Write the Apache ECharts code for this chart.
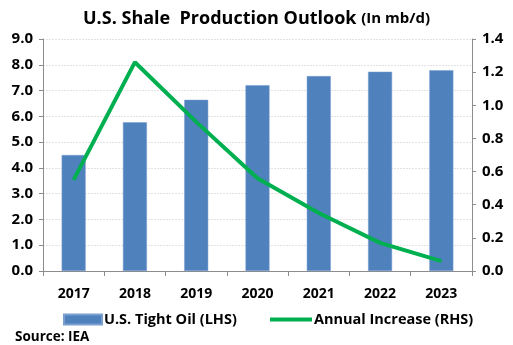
<!DOCTYPE html>
<html>
<head>
<meta charset="utf-8">
<script src="https://cdn.jsdelivr.net/npm/echarts@6/dist/echarts.min.js"></script>
<style>
  html, body { margin: 0; padding: 0; background: #fff; }
  #chart { width: 513px; height: 345px; }
</style>
</head>
<body>
<div id="chart"></div>
<script>
// Years on the category axis
const years = ['2017', '2018', '2019', '2020', '2021', '2022', '2023'];
// U.S. tight oil output, mb/d (left axis)
const tightOil = [4.50, 5.77, 6.64, 7.21, 7.56, 7.73, 7.79];
// Year-over-year increase, mb/d (right axis)
const annualIncrease = [0.55, 1.26, 0.90, 0.56, 0.35, 0.17, 0.06];

const FONT = '"Open Sans", Lato, sans-serif';
const chart = echarts.init(document.getElementById('chart'), null, { renderer: 'canvas' });

const legendText = { fontFamily: FONT, fontWeight: 'bold', fontSize: 14.5, color: '#000', padding: [0, 0, 0, -3] };

chart.setOption({
  animation: false,
  backgroundColor: '#ffffff',
  textStyle: { fontFamily: FONT },
  title: {
    text: 'U.S. Shale  Production Outlook {s|(In mb/d)}',
    left: 'center',
    top: 5,
    textStyle: {
      fontFamily: FONT, fontWeight: 'bold', fontSize: 18, color: '#000',
      rich: { s: { fontFamily: FONT, fontWeight: 'bold', fontSize: 15, color: '#000' } }
    }
  },
  grid: { left: 43, right: 41, top: 39, bottom: 74, containLabel: false },
  legend: [{
    top: 307,
    left: 58,
    itemWidth: 38,
    itemHeight: 10,
    textStyle: legendText,
    data: [{ name: 'U.S. Tight Oil (LHS)', icon: 'rect' }]
  }, {
    top: 307,
    left: 265,
    itemWidth: 42,
    itemHeight: 10,
    textStyle: legendText,
    data: [{ name: 'Annual Increase (RHS)', icon: 'path://M0,0 L40,0 L40,4 L0,4 Z', itemStyle: { color: '#00b050' } }]
  }],
  graphic: [{
    type: 'text', left: 15, top: 330,
    style: { text: 'Source: IEA', font: 'bold 13.5px ' + FONT, fill: '#000' }
  }],
  xAxis: {
    type: 'category',
    data: years,
    axisLine: { lineStyle: { color: '#8c8c8c', width: 1 } },
    axisTick: { show: true, length: 5, lineStyle: { color: '#8c8c8c' } },
    axisLabel: { fontFamily: FONT, fontWeight: 'bold', fontSize: 14, color: '#000', margin: 16 }
  },
  yAxis: [{
    type: 'value', min: 0, max: 9, interval: 1,
    axisLine: { show: true, lineStyle: { color: '#8c8c8c' } },
    axisTick: { show: true, inside: false, length: 4, lineStyle: { color: '#8c8c8c' } },
    axisLabel: { fontFamily: FONT, fontWeight: 'bold', fontSize: 15, color: '#000', margin: 10,
      formatter: v => v.toFixed(1) },
    splitLine: { show: true, lineStyle: { color: '#e2e2e2', type: [2, 1], width: 1 } }
  }, {
    type: 'value', min: 0, max: 1.4, interval: 0.2,
    position: 'right',
    axisLine: { show: true, lineStyle: { color: '#8c8c8c' } },
    axisTick: { show: true, inside: false, length: 4, lineStyle: { color: '#8c8c8c' } },
    axisLabel: { fontFamily: FONT, fontWeight: 'bold', fontSize: 15, color: '#000', margin: 10,
      formatter: v => v.toFixed(1) },
    splitLine: { show: false }
  }],
  series: [{
    name: 'U.S. Tight Oil (LHS)',
    type: 'bar',
    yAxisIndex: 0,
    data: tightOil,
    barWidth: 24,
    itemStyle: { color: '#4f81bd', borderColor: '#7a9fd0', borderWidth: 0.5 }
  }, {
    name: 'Annual Increase (RHS)',
    type: 'line',
    yAxisIndex: 1,
    data: annualIncrease,
    symbol: 'none',
    lineStyle: { color: '#00b050', width: 4 },
    itemStyle: { color: '#00b050' }
  }]
});
</script>
</body>
</html>
